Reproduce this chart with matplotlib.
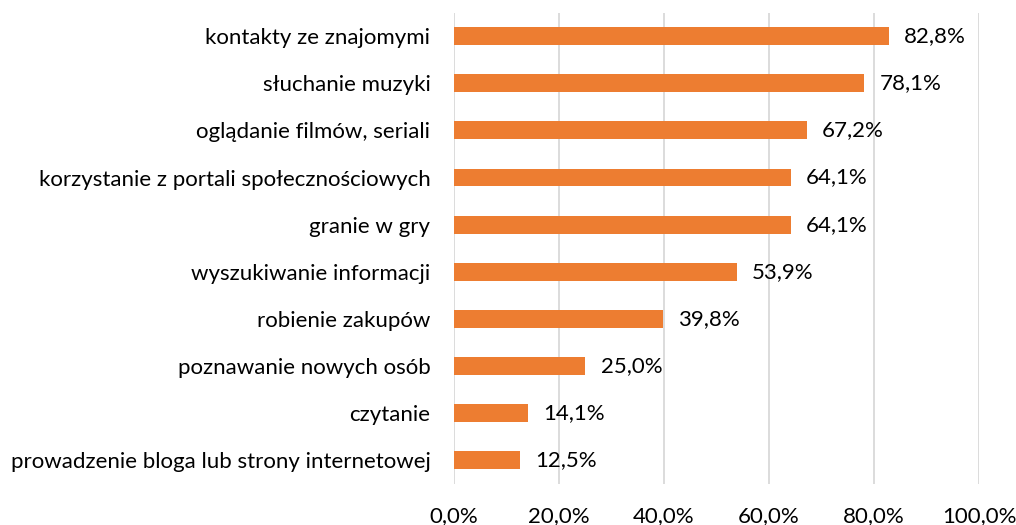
import numpy as np
import matplotlib
matplotlib.use("Agg")
import matplotlib.pyplot as plt

plt.rcParams['font.family'] = ['Lato', 'DejaVu Sans']

# data, top to bottom as in the chart
categories = [
    "kontakty ze znajomymi",
    "słuchanie muzyki",
    "oglądanie filmów, seriali",
    "korzystanie z portali społecznościowych",
    "granie w gry",
    "wyszukiwanie informacji",
    "robienie zakupów",
    "poznawanie nowych osób",
    "czytanie",
    "prowadzenie bloga lub strony internetowej",
]
values = [82.8, 78.1, 67.2, 64.1, 64.1, 53.9, 39.8, 25.0, 14.1, 12.5]
xticks = [0, 20, 40, 60, 80, 100]


def pl_pct(v):
    return f"{v:.1f}%".replace(".", ",")


fs = 16
fig = plt.figure(figsize=(10.16, 5.25), dpi=100)
ax = fig.add_axes([454 / 1016, 1 - 484 / 525, 525 / 1016, 471.5 / 525])

y = np.arange(len(categories))
ax.barh(y, values, height=0.38, color='#ED7D31', zorder=3)

# value labels to the right of each bar
for yi, v in zip(y, values):
    ax.annotate(pl_pct(v), xy=(v, yi), xytext=(11, 0), textcoords='offset points',
                va='center', ha='left', fontsize=fs, color='#000000')

ax.set_xlim(0, 100)
ax.set_ylim(len(categories) - 0.5, -0.5)
ax.set_yticks(y)
ax.set_yticklabels(categories, fontsize=fs)
ax.set_xticks(xticks)
ax.set_xticklabels([pl_pct(t) for t in xticks], fontsize=fs)
ax.tick_params(axis='y', length=0, pad=17)
ax.tick_params(axis='x', length=0, pad=16)

ax.grid(axis='x', color='#D9D9D9', linewidth=1.3, zorder=0)
for s in ax.spines.values():
    s.set_visible(False)

fig.savefig("out.png", dpi=100)
